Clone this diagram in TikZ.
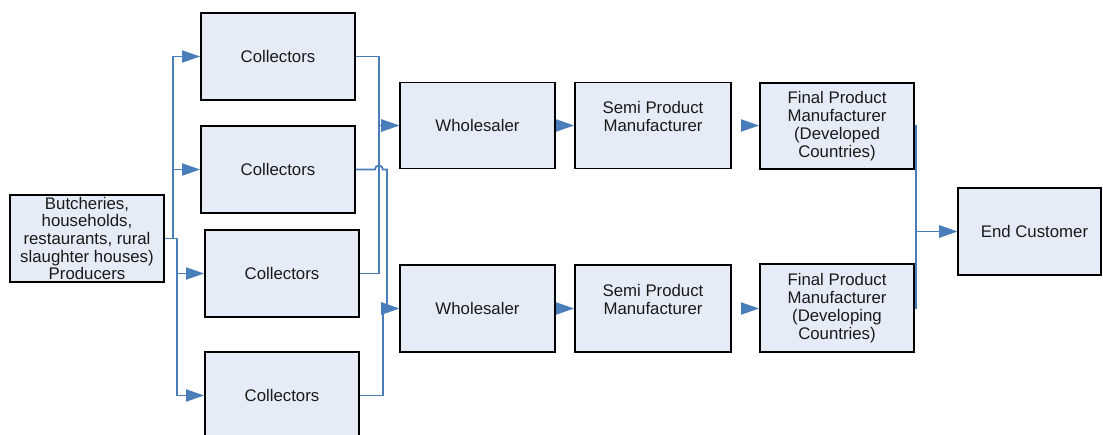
\documentclass[tikz,border=0pt]{standalone}
\usepackage{fontspec}
\setmainfont{Liberation Sans}
\usetikzlibrary{arrows.meta}
\definecolor{boxfill}{HTML}{E6ECF7}
\definecolor{linkblue}{HTML}{4A7EBB}
\definecolor{txt}{HTML}{1A1A1A}
\begin{document}
\begin{tikzpicture}[x=1pt,y=1pt,
  box/.style={draw=black,line width=1.8pt,fill=boxfill,inner sep=0pt,
    align=center,text=txt,font=\fontsize{16.8}{18}\selectfont,
    minimum width=154pt,minimum height=87pt},
  link/.style={draw=linkblue,line width=1.8pt},
  flow/.style={link,-{Triangle[length=18pt,width=12pt]}}]
\useasboundingbox (0,0) rectangle (1103,-435);
\fill[white] (0,0) rectangle (1103,-435);
% nodes
\node[box,font=\fontsize{16.8}{17.6}\selectfont] (prod) at (87,-238.5) {Butcheries,\\households,\\restaurants, rural\\slaughter houses)\\Producers};
\node[box] (c1) at (278,-56.5) {Collectors};
\node[box] (c2) at (278,-169.5) {Collectors};
\node[box] (c3) at (282,-273.5) {Collectors};
\node[box] (c4) at (282,-395.5) {Collectors};
\node[box,minimum width=155pt,minimum height=86pt] (w1) at (477.5,-125.5) {Wholesaler};
\node[box,minimum width=155pt] (w2) at (477.5,-308.5) {Wholesaler};
\node[box,minimum width=156pt,minimum height=86pt] (s1) at (653,-125.5) {Semi Product\\Manufacturer\\\mbox{}};
\node[box,minimum width=156pt] (s2) at (653,-308.5) {Semi Product\\Manufacturer\\\mbox{}};
\node[box,minimum height=86pt] (f1) at (837,-126) {Final Product\\Manufacturer\\ (Developed\\Countries)};
\node[box,minimum height=88pt] (f2) at (837,-308) {Final Product\\Manufacturer\\ (Developing\\Countries)};
\node[box,minimum width=143pt] (ec) at (1029.5,-231.5) {\hspace*{10pt}End Customer};
% producers to collectors
\draw[flow] (prod.east) -- ++(8,0) |- (c1.west);
\draw[flow] (prod.east) -- ++(8,0) |- (c2.west);
\draw[flow] (prod.east) -- ++(12,0) |- (c3.west);
\draw[flow] (prod.east) -- ++(12,0) |- (c4.west);
% collectors to wholesalers
\draw[flow] (c1.east) -- ++(23,0) |- (w1.west);
\draw[flow] (c3.east) -- ++(19,0) |- (w1.west);
\draw[flow] (c2.east) -- ++(19,0) arc[start angle=180,end angle=0,radius=4pt] -- ++(4,0) |- (w2.west);
\draw[flow] (c4.east) -- ++(23,0) |- (w2.west);
% chain
\draw[flow] (w1.east) -- (w1.east -| s1.west);
\draw[flow] (w2.east) -- (w2.east -| s2.west);
\draw[flow,shorten <=9pt] (s1.east) -- (s1.east -| f1.west);
\draw[flow,shorten <=9pt] (s2.east) -- (s2.east -| f2.west);
\draw[flow] (f1.east) -- ++(1,0) |- (ec.west);
\draw[flow] (f2.east) -- ++(1,0) |- (ec.west);
\end{tikzpicture}
\end{document}
